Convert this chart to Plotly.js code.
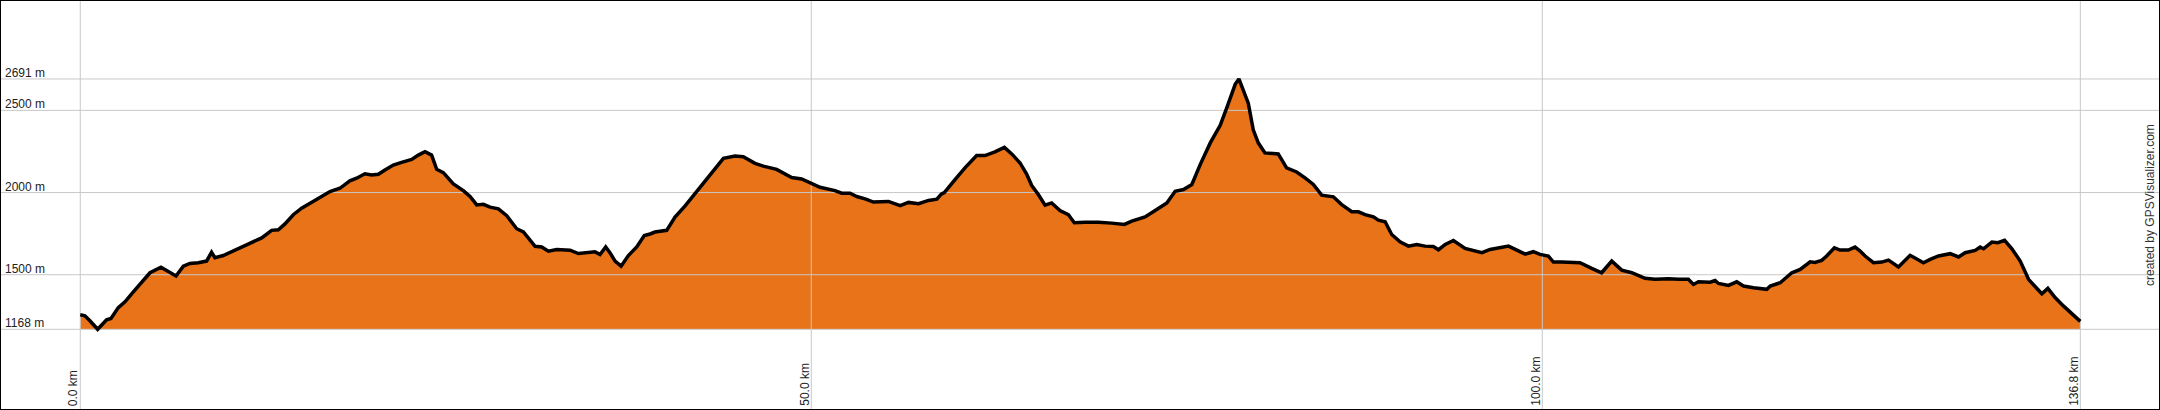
<!DOCTYPE html>
<html>
<head>
<meta charset="utf-8">
<script src="https://cdn.plot.ly/plotly-3.0.1.min.js"></script>
<style>html,body{margin:0;padding:0;background:#fff;}#chart{width:2160px;height:410px;}</style>
</head>
<body>
<div id="chart"></div>
<script>
// Distance along track (km)
const distanceKm = [
  0.00, 0.32, 0.66, 1.19, 1.80, 2.10, 2.60, 3.06, 3.63, 4.20, 4.77, 5.52, 6.02, 6.55, 7.05, 7.50,
  8.07, 8.64, 8.98, 9.21, 9.78, 10.58, 11.49, 12.41, 13.09, 13.55, 14.00, 14.57, 15.14, 15.82, 16.51,
  17.08, 17.76, 18.44, 18.90, 19.47, 19.93, 20.39, 20.84, 21.41, 21.98, 22.67, 23.12, 23.58, 24.03,
  24.38, 24.83, 25.52, 26.20, 26.66, 27.12, 27.57, 28.03, 28.60, 29.17, 29.85, 30.31, 31.11, 31.56,
  32.02, 32.59, 33.16, 33.50, 34.07, 34.64, 35.21, 35.55, 35.94, 36.24, 36.58, 36.99, 37.49, 38.06,
  38.58, 38.97, 39.31, 40.11, 40.68, 41.37, 42.16, 42.96, 43.53, 43.99, 44.78, 45.35, 46.15, 46.72,
  47.63, 48.09, 48.66, 49.34, 50.03, 50.60, 51.62, 52.08, 52.65, 53.11, 53.68, 54.25, 55.28, 56.08,
  56.65, 57.34, 58.02, 58.59, 58.89, 59.10, 59.83, 60.51, 61.31, 61.88, 62.56, 63.21, 63.71, 64.28,
  64.73, 65.07, 65.53, 65.99, 66.44, 67.01, 67.58, 67.99, 68.72, 69.64, 70.55, 71.42, 71.92, 72.83,
  73.52, 74.32, 74.89, 75.46, 76.03, 76.60, 77.29, 77.97, 78.43, 79.00, 79.25, 79.55, 79.89, 80.23,
  80.58, 81.03, 81.94, 82.51, 83.20, 83.77, 84.34, 84.91, 85.71, 86.28, 86.97, 87.42, 87.88, 88.45,
  88.79, 89.25, 89.70, 90.27, 90.84, 91.41, 91.98, 92.55, 92.90, 93.36, 93.92, 94.72, 95.18, 95.87,
  96.43, 97.00, 97.69, 98.26, 98.83, 99.39, 99.85, 100.41, 100.76, 101.33, 102.01, 102.58, 103.38,
  104.06, 104.75, 105.43, 106.12, 107.03, 107.71, 108.63, 109.31, 109.99, 110.34, 110.68, 111.48,
  111.82, 112.05, 112.73, 113.30, 113.76, 114.45, 115.36, 115.59, 116.27, 117.07, 117.64, 118.32,
  118.65, 119.11, 119.45, 119.98, 120.36, 120.93, 121.39, 121.74, 122.08, 122.65, 123.22, 123.68,
  124.36, 125.16, 126.07, 126.53, 127.10, 127.90, 128.47, 128.92, 129.61, 129.95, 130.18, 130.75,
  131.16, 131.62, 132.12, 132.69, 133.26, 133.72, 134.17, 134.58, 135.09, 135.66, 136.23, 136.80
];

// Elevation (m)
const elevationM = [
  1256, 1250, 1220, 1168, 1226, 1234, 1300, 1335, 1395, 1452, 1512, 1546, 1522, 1492, 1552, 1569,
  1573, 1583, 1637, 1603, 1617, 1649, 1683, 1724, 1770, 1774, 1809, 1865, 1905, 1942, 1976,
  2006, 2026, 2071, 2087, 2114, 2107, 2111, 2137, 2167, 2184, 2202, 2228, 2248, 2228,
  2141, 2121, 2053, 2012, 1976, 1925, 1928, 1911, 1901, 1859, 1780, 1760, 1673, 1669,
  1643, 1653, 1649, 1649, 1629, 1633, 1639, 1623, 1669, 1633, 1583, 1552, 1617, 1669,
  1738, 1748, 1760, 1770, 1851, 1919, 2006, 2087, 2157, 2208, 2222, 2218, 2178, 2161,
  2141, 2121, 2091, 2083, 2057, 2032, 2012, 1996, 1996, 1976, 1962, 1942, 1946, 1921,
  1940, 1932, 1952, 1960, 1990, 2000, 2079, 2150, 2225, 2225, 2247, 2275, 2235, 2180,
  2113, 2044, 1988, 1923, 1937, 1891, 1866, 1816, 1820, 1820, 1814, 1806, 1826, 1852,
  1891, 1937, 2008, 2018, 2049, 2170, 2302, 2409, 2518, 2660, 2691, 2625, 2544, 2382,
  2301, 2241, 2235, 2150, 2125, 2089, 2049, 1984, 1974, 1927, 1883, 1883, 1866, 1852,
  1832, 1822, 1745, 1700, 1674, 1684, 1674, 1672, 1652, 1684, 1708, 1660, 1650, 1634,
  1654, 1664, 1674, 1650, 1625, 1640, 1624, 1614, 1577, 1577, 1573, 1573, 1539,
  1512, 1583, 1528, 1512, 1478, 1472, 1476, 1472, 1472, 1441, 1457, 1455,
  1465, 1447, 1435, 1457, 1431, 1421, 1411, 1431, 1451, 1512, 1532, 1579,
  1575, 1587, 1614, 1664, 1650, 1650, 1668, 1644, 1614, 1573, 1577, 1589,
  1547, 1618, 1573, 1593, 1614, 1628, 1608, 1634, 1648, 1668, 1658, 1699,
  1695, 1709, 1658, 1583, 1472, 1427, 1384, 1417, 1360, 1309, 1259, 1216
];

// Axis ticks
const xTickVals = [0, 50, 100, 136.8];
const xTickLabels = ["0.0 km", "50.0 km", "100.0 km", "136.8 km"];
const yTickVals = [1168, 1500, 2000, 2500, 2691];
const yTickLabels = ["1168 m", "1500 m", "2000 m", "2500 m", "2691 m"];
const creditText = "created by GPSVisualizer.com";

const xRange = [-5.49, 142.25];
const yRange = [677, 3171.5];
const baseElev = 1168;

// Gridlines drawn as traces (they sit above the fill, below the outline)
const gx = [], gy = [];
yTickVals.forEach(v => { gx.push(xRange[0], xRange[1], null); gy.push(v, v, null); });
xTickVals.forEach(v => { gx.push(v, v, null); gy.push(yRange[0], yRange[1], null); });

const traces = [
  { x: [distanceKm[0], distanceKm[distanceKm.length - 1]], y: [baseElev, baseElev],
    mode: 'lines', line: { width: 0, color: 'rgba(0,0,0,0)' }, hoverinfo: 'skip', showlegend: false },
  { x: distanceKm, y: elevationM, mode: 'lines', fill: 'tonexty', fillcolor: '#E97318',
    line: { width: 0, color: 'rgba(0,0,0,0)' }, hoverinfo: 'skip', showlegend: false },
  { x: gx, y: gy, mode: 'lines', line: { width: 1, color: '#c8c8c8' }, hoverinfo: 'skip',
    showlegend: false, connectgaps: false },
  { x: distanceKm, y: elevationM, mode: 'lines', line: { width: 3.5, color: '#000000' },
    hoverinfo: 'skip', showlegend: false }
];

const annFont = { family: 'Liberation Sans, Arial, sans-serif', size: 12, color: '#222' };
const annotations = [];
yTickVals.forEach((v, i) => annotations.push({
  xref: 'paper', x: 0, xanchor: 'left', xshift: 3,
  yref: 'y', y: v, yanchor: 'bottom', yshift: -3,
  text: yTickLabels[i], showarrow: false, font: annFont
}));
xTickVals.forEach((v, i) => annotations.push({
  xref: 'x', x: v, xanchor: 'right', xshift: 2,
  yref: 'paper', y: 0, yanchor: 'bottom', yshift: 2,
  text: xTickLabels[i], textangle: -90, showarrow: false, font: annFont
}));
annotations.push({
  xref: 'paper', x: 1, xanchor: 'right', xshift: -1,
  yref: 'paper', y: 0.5, yanchor: 'middle', yshift: 0,
  text: creditText, textangle: -90, showarrow: false,
  font: { family: 'Liberation Sans, Arial, sans-serif', size: 12, color: '#333' }
});

const layout = {
  width: 2160, height: 410,
  margin: { l: 0, r: 0, t: 0, b: 0, pad: 0 },
  paper_bgcolor: '#ffffff', plot_bgcolor: '#ffffff',
  showlegend: false,
  xaxis: { range: xRange, showgrid: false, zeroline: false, showticklabels: false, ticks: '', fixedrange: true },
  yaxis: { range: yRange, showgrid: false, zeroline: false, showticklabels: false, ticks: '', fixedrange: true },
  annotations: annotations,
  shapes: [{ type: 'rect', xref: 'paper', yref: 'paper', x0: 0, x1: 1, y0: 0, y1: 1,
    line: { color: '#000', width: 2 }, layer: 'above' }]
};

Plotly.newPlot('chart', traces, layout, { staticPlot: true, displayModeBar: false });
</script>
</body>
</html>
